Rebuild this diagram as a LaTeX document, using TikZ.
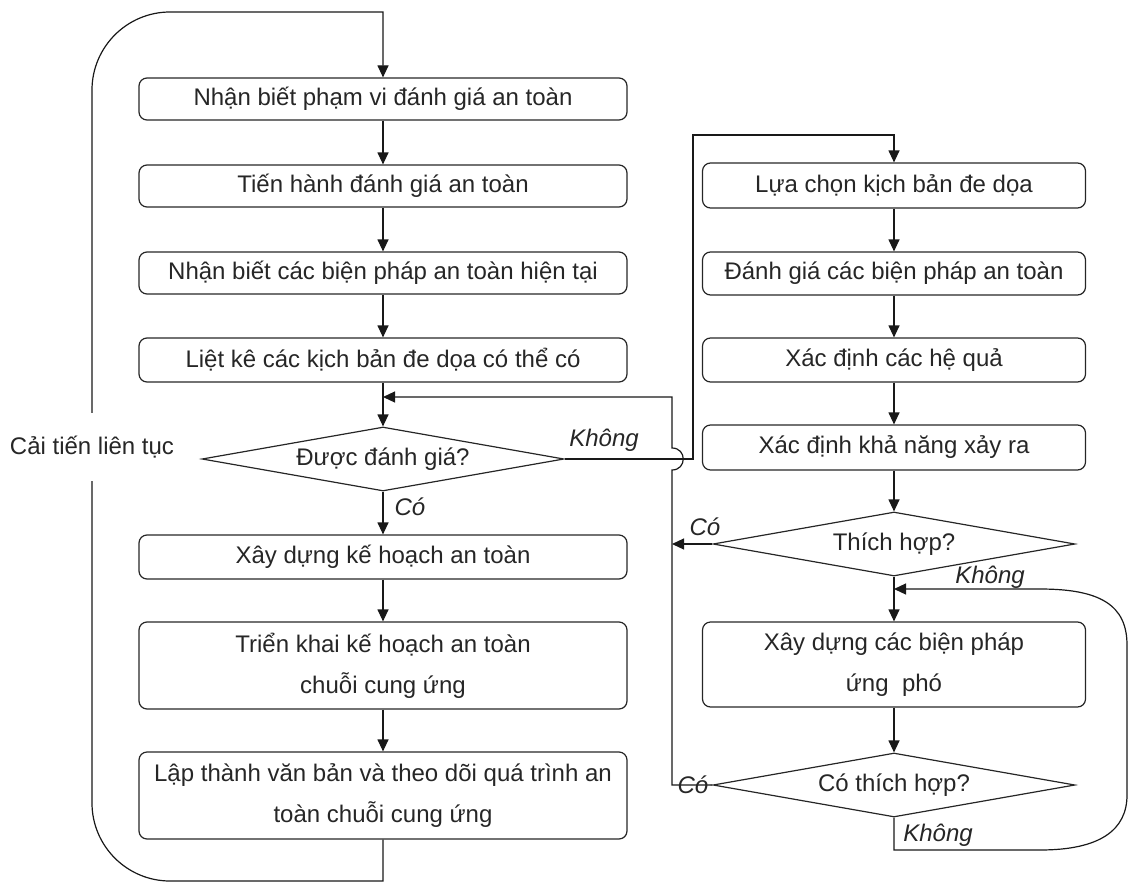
\documentclass[tikz,border=0pt]{standalone}
\usepackage{fontspec}
\setmainfont{Liberation Sans}
\usetikzlibrary{shapes.geometric,arrows.meta}
\begin{document}
\begin{tikzpicture}[x=1pt,y=-1pt,
  line width=1.2pt,
  every node/.style={text=black!85},
  box/.style={draw=black!85, rounded corners=8pt, minimum width=488pt, inner sep=0pt, align=center, font=\fontsize{24}{41}\selectfont},
  rbox/.style={box, minimum width=383pt},
  dec/.style={draw=black!85, diamond, aspect=5.6, minimum width=362pt, minimum height=64pt, inner sep=0pt, font=\fontsize{24}{28}\selectfont},
  lbl/.style={font=\fontsize{24}{28}\itshape, inner sep=0pt},
  arr/.style={draw=black!90, -{Triangle[length=12pt,width=11pt]}},
  ln/.style={draw=black!90}
]
\useasboundingbox (0,0) rectangle (1129,883);
% left column
\node[box, minimum height=42pt] (b1) at (383,99) {Nhận biết phạm vi đánh giá an toàn};
\node[box, minimum height=42pt] (b2) at (383,186) {Tiến hành đánh giá an toàn};
\node[box, minimum height=42pt] (b3) at (383,273) {Nhận biết các biện pháp an toàn hiện tại};
\node[box, minimum height=44pt] (b4) at (383,360) {Liệt kê các kịch bản đe dọa có thể có};
\node[dec] (d1) at (383,459) {Được đánh giá?};
\node[box, minimum height=44pt] (b5) at (383,557) {Xây dựng kế hoạch an toàn};
\node[box, minimum height=87pt] (b6) at (383,665.5) {Triển khai kế hoạch an toàn\\chuỗi cung ứng};
\node[box, minimum height=87pt] (b7) at (383,795.5) {Lập thành văn bản và theo dõi quá trình an\\toàn chuỗi cung ứng};
% right column
\node[rbox, minimum height=45pt] (r1) at (894,185.5) {Lựa chọn kịch bản đe dọa};
\node[rbox, minimum height=43pt] (r2) at (894,273.5) {Đánh giá các biện pháp an toàn};
\node[rbox, minimum height=44pt] (r3) at (894,360) {Xác định các hệ quả};
\node[rbox, minimum height=45pt] (r4) at (894,447.5) {Xác định khả năng xảy ra};
\node[dec] (d2) at (894,544) {Thích hợp?};
\node[rbox, minimum height=85pt] (r5) at (894,664.5) {Xây dựng các biện pháp\\ứng~ phó};
\node[dec] (d3) at (894,785) {Có thích hợp?};
% coordinates
\coordinate (lb) at (383,881);
\coordinate (lt) at (383,12);
\coordinate (m1) at (383,397);
\coordinate (k1) at (693,459);
\coordinate (k2) at (693,135);
\coordinate (k3) at (894,135);
\coordinate (c1) at (672,785);
\coordinate (c2) at (672,470);
\coordinate (c3) at (672,448);
\coordinate (c4) at (672,397);
\coordinate (c5) at (672,544);
\coordinate (n1) at (894,850);
\coordinate (n2) at (894,589);
% left chain
\draw[arr] (b1) -- (b2);
\draw[arr] (b2) -- (b3);
\draw[arr] (b3) -- (b4);
\draw[arr] (b4) -- (d1);
\draw[arr] (d1) -- (b5);
\draw[arr] (b5) -- (b6);
\draw[arr] (b6) -- (b7);
% outer loop
\draw[arr] (b7.south) -- (lb) -- (170,881) .. controls (127,881) and (92,846) .. (92,803) -- (92,90) .. controls (92,47) and (127,12) .. (170,12) -- (lt) -- (b1.north);
\node[fill=white, minimum height=68pt, inner sep=1pt, font=\fontsize{24}{28}\selectfont] (ci) at (92,447) {Cải tiến liên tục};
% right chain
\draw[arr] (r1) -- (r2);
\draw[arr] (r2) -- (r3);
\draw[arr] (r3) -- (r4);
\draw[arr] (r4) -- (d2);
\draw[arr] (d2) -- (r5);
\draw[arr] (r5) -- (d3);
% Khong from d1
\draw[arr] (d1.east) -- (k1) -- (k2) -- (k3) -- (r1.north);
% Co return
\draw[arr] (d3.west) -- (c1) -- (c2) .. controls (687,470) and (687,448) .. (c3) -- (c4) -- (m1);
\draw[arr] (d2.west) -- (c5);
% Khong loop
\draw[arr] (d3.south) -- (n1) -- (1040,850) .. controls (1100,850) and (1127,830) .. (1127,795) -- (1127,645) .. controls (1127,605) and (1100,589) .. (1040,589) -- (n2);
% labels
\node[lbl] (lk1) at (604,440) {Không};
\node[lbl] (lc1) at (410,507) {Có};
\node[lbl] (lc2) at (705,527) {Có};
\node[lbl] (lk2) at (990,577) {Không};
\node[lbl] (lc3) at (693,785) {Có};
\node[lbl] (lk3) at (938,835) {Không};
\end{tikzpicture}
\end{document}
